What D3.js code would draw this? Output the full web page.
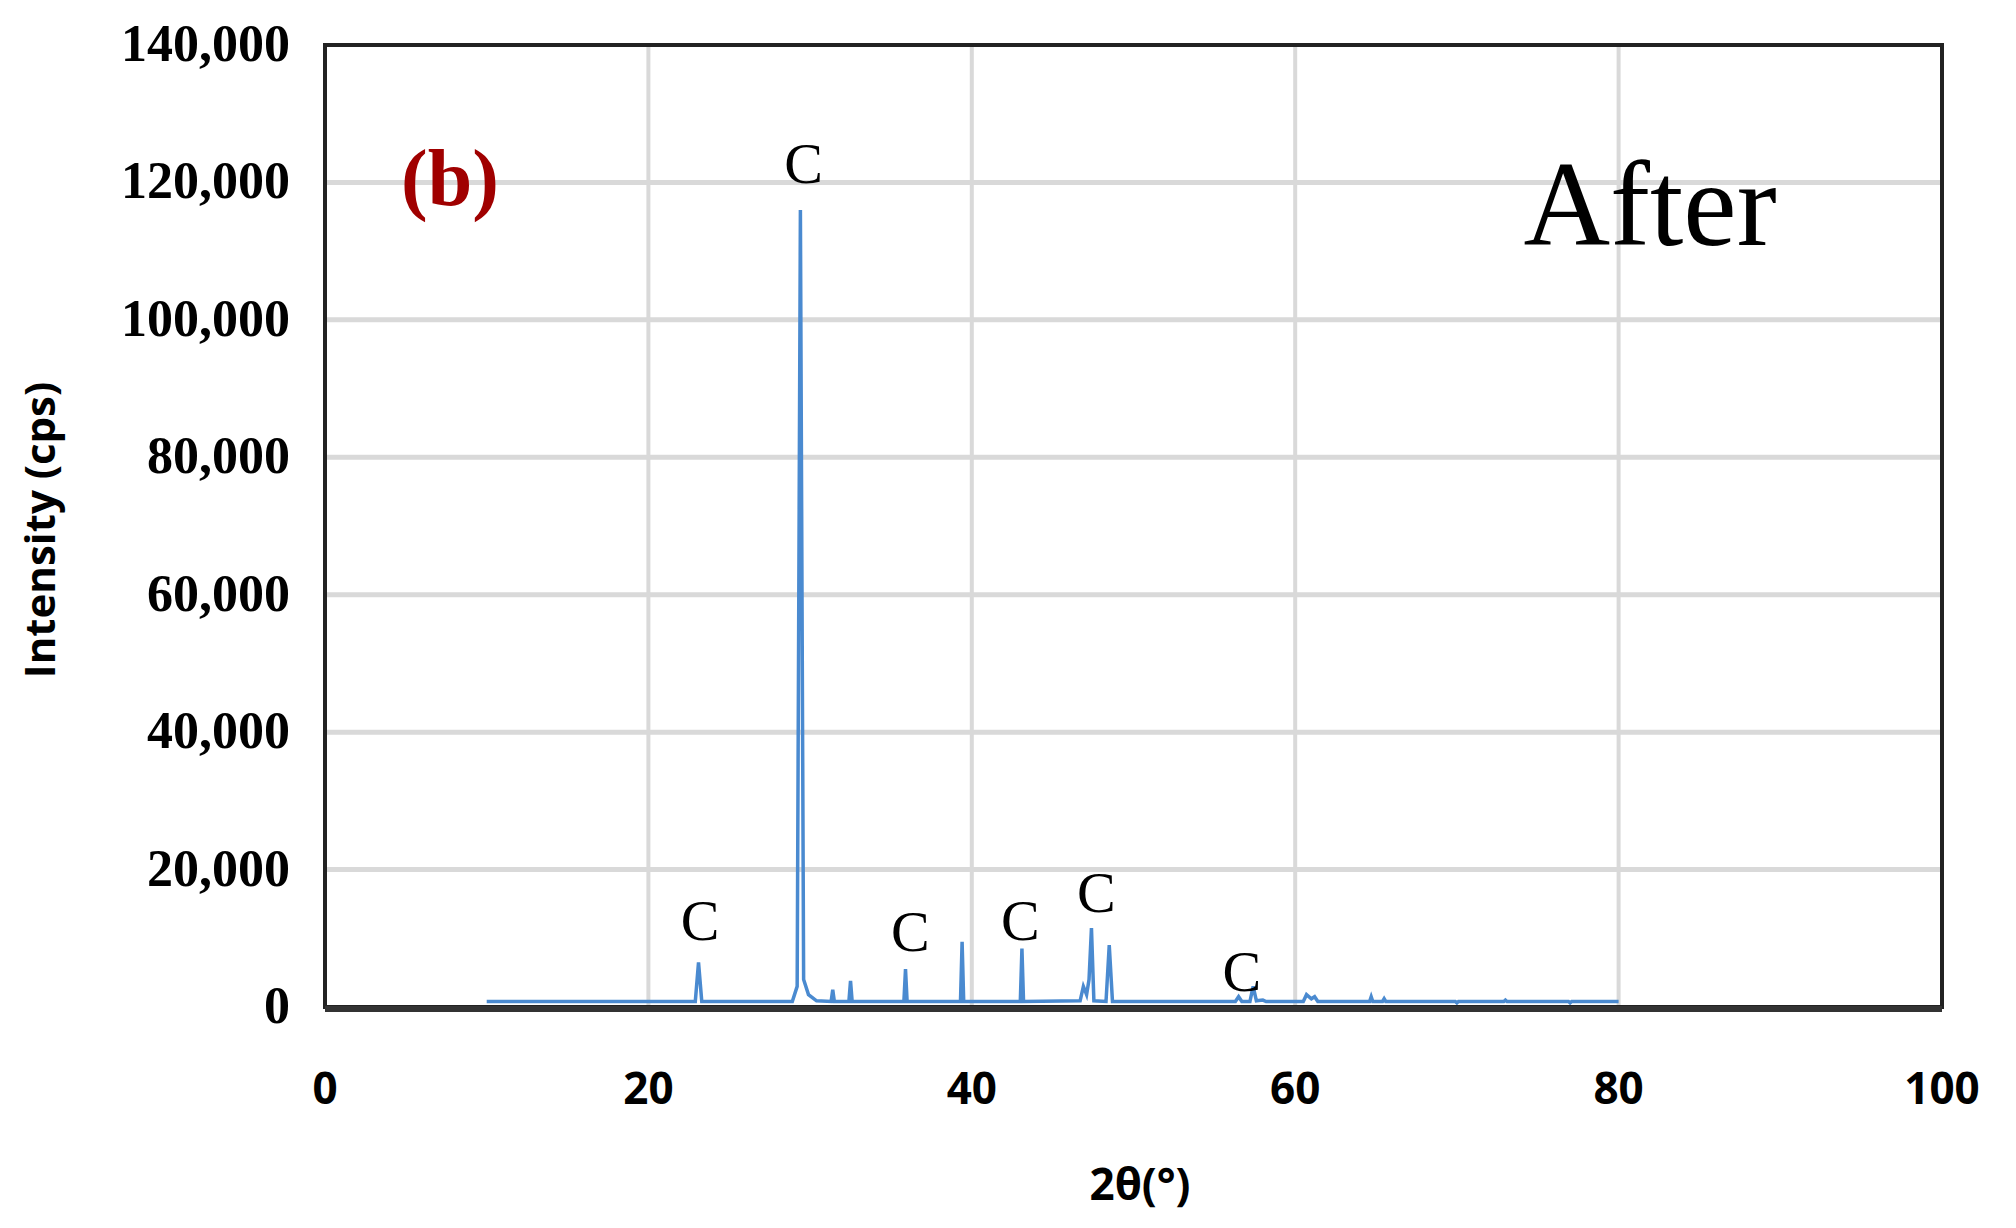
<!DOCTYPE html>
<html><head><meta charset="utf-8">
<script src="https://cdn.jsdelivr.net/npm/d3@7"></script>
<style>body{margin:0;background:#fff}</style></head>
<body><svg id="c" width="2016" height="1228"></svg>
<script>
const twoTheta = [10,22.9,23.1,23.3,28.9,29.2,29.4,29.6,29.9,30.4,31.3,31.4,31.5,32.4,32.5,32.6,35.8,35.9,36.0,39.3,39.4,39.5,43.0,43.1,43.2,46.7,46.9,47.1,47.25,47.4,47.55,48.3,48.5,48.7,56.3,56.5,56.7,57.2,57.4,57.6,58.0,58.2,60.5,60.7,61.0,61.2,61.4,64.6,64.7,64.8,65.4,65.5,65.6,69.9,70.0,70.1,72.9,73.0,73.1,76.9,77.0,77.1,80];
const intensity = [800,800,6500,800,800,3000,116000,4000,1800,900,800,2500,800,800,3800,800,800,5500,800,800,9500,800,800,8500,800,900,3000,1800,4000,11500,900,800,9000,800,800,1500,800,800,3000,900,1000,800,800,1800,1200,1500,800,800,1500,800,800,1200,800,800,600,800,800,1000,800,800,600,800,800];
const xTicks = [0,20,40,60,80,100];
const yTicks = [0,20000,40000,60000,80000,100000,120000,140000];
const labelX = [23.2,29.6,36.2,43.0,47.7,56.7];
const labelY = [12300,122500,10800,12300,16500,5000];

const svg = d3.select("#c");
const L=325,R=1942,T=45,B=1007;
const x = d3.scaleLinear().domain([0,100]).range([L,R]);
const y = d3.scaleLinear().domain([0,140000]).range([B,T]);

svg.append("g").selectAll("line").data(xTicks.slice(1,-1)).join("line")
  .attr("x1",d=>x(d)).attr("x2",d=>x(d)).attr("y1",T).attr("y2",B)
  .attr("stroke","#d9d9d9").attr("stroke-width",4);
svg.append("g").selectAll("line").data(yTicks.slice(1,-1)).join("line")
  .attr("x1",L).attr("x2",R).attr("y1",d=>y(d)).attr("y2",d=>y(d))
  .attr("stroke","#d9d9d9").attr("stroke-width",5);

svg.append("path").datum(twoTheta.map((t,i)=>[t,intensity[i]]))
  .attr("d",d3.line().x(d=>x(d[0])).y(d=>y(d[1])))
  .attr("fill","none").attr("stroke","#4a8ad0").attr("stroke-width",3.5);

svg.append("rect").attr("x",L).attr("y",T).attr("width",R-L).attr("height",B-T)
  .attr("fill","none").attr("stroke","#222").attr("stroke-width",4);
svg.append("line").attr("x1",L).attr("x2",R).attr("y1",B+2).attr("y2",B+2).attr("stroke","#333").attr("stroke-width",6);

svg.append("g").selectAll("text").data(yTicks).join("text")
  .attr("x",290).attr("y",d=>y(d)+16).attr("text-anchor","end")
  .attr("font-family","Liberation Serif").attr("font-weight","bold").attr("font-size",52)
  .text(d=>d3.format(",")(d));
svg.append("g").selectAll("text").data(xTicks).join("text")
  .attr("x",d=>x(d)).attr("y",1104).attr("text-anchor","middle")
  .attr("font-family","Open Sans").attr("font-weight","bold").attr("font-size",44)
  .text(d=>d);
svg.append("text").attr("x",1140).attr("y",1200).attr("text-anchor","middle")
  .attr("font-family","Open Sans").attr("font-weight","bold").attr("font-size",44).text("2θ(°)");
svg.append("text").attr("transform","translate(55,530) rotate(-90)").attr("text-anchor","middle")
  .attr("font-family","Open Sans").attr("font-weight","bold").attr("font-size",42).text("Intensity (cps)");

svg.append("g").selectAll("text").data(labelX).join("text")
  .attr("x",d=>x(d)).attr("y",(d,i)=>y(labelY[i])+18).attr("text-anchor","middle")
  .attr("font-family","Liberation Serif").attr("font-size",58).text("C");
svg.append("text").attr("x",450).attr("y",205).attr("text-anchor","middle")
  .attr("font-family","Liberation Serif").attr("font-weight","bold").attr("font-size",80)
  .attr("fill","#a00000").text("(b)");
svg.append("text").attr("x",1650).attr("y",245).attr("text-anchor","middle")
  .attr("font-family","Liberation Serif").attr("font-size",120).text("After");
</script></body></html>
